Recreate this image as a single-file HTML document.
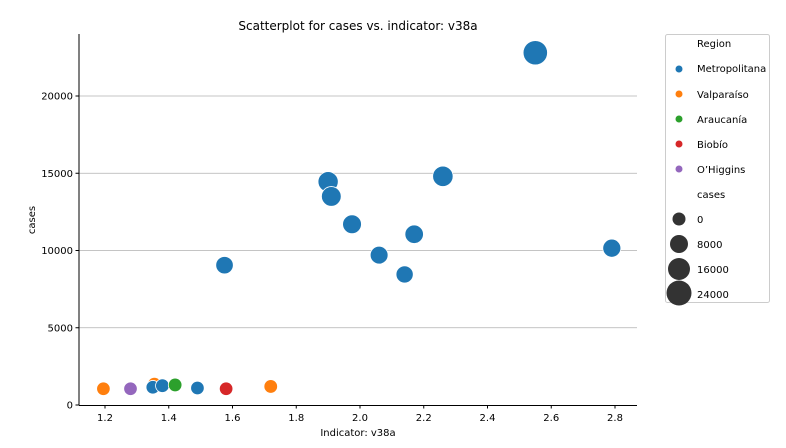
<!DOCTYPE html>
<html><head><meta charset="utf-8"><style>
body{margin:0;background:#fff;font-family:"Liberation Sans","DejaVu Sans",sans-serif}
</style></head><body>
<svg id="chart" width="786" height="443" xmlns="http://www.w3.org/2000/svg" font-family="DejaVu Sans, Liberation Sans, sans-serif">
<text x="358" y="30" text-anchor="middle" font-size="12">Scatterplot for cases vs. indicator: v38a</text>
<g id="grid"></g><g id="axes"></g><g id="marks"></g>
<text x="358" y="436" text-anchor="middle" font-size="10">Indicator: v38a</text>
<text x="35" y="220" text-anchor="middle" font-size="10" transform="rotate(-90 35 220)">cases</text>
<g>
<rect x="665.5" y="34.5" width="104" height="268" rx="2" fill="#fff" stroke="#ccc"/>
<text x="697" y="47" font-size="10">Region</text>
<circle cx="679" cy="69" r="3.5" fill="#1f77b4"/><text x="697" y="72" font-size="10">Metropolitana</text>
<circle cx="679" cy="94" r="3.5" fill="#ff7f0e"/><text x="697" y="98" font-size="10">Valparaíso</text>
<circle cx="679" cy="119" r="3.5" fill="#2ca02c"/><text x="697" y="123" font-size="10">Araucanía</text>
<circle cx="679" cy="144" r="3.5" fill="#d62728"/><text x="697" y="148" font-size="10">Biobío</text>
<circle cx="679" cy="169" r="3.5" fill="#9467bd"/><text x="697" y="173" font-size="10">O’Higgins</text>
<text x="697" y="198" font-size="10">cases</text>
<circle cx="679" cy="219" r="6.5" fill="#333"/><text x="697" y="223" font-size="10">0</text>
<circle cx="679" cy="244" r="9" fill="#333"/><text x="697" y="248" font-size="10">8000</text>
<circle cx="679" cy="269" r="11" fill="#333"/><text x="697" y="273" font-size="10">16000</text>
<circle cx="679" cy="293" r="12.5" fill="#333"/><text x="697" y="298" font-size="10">24000</text>
</g>
</svg>
<script>
const xs=[1.195,1.355,1.72,2.55,1.90,1.91,2.26,1.975,2.17,2.06,2.14,1.575,2.79,1.35,1.38,1.49,1.42,1.58,1.28];
const ys=[1050,1350,1200,22800,14450,13500,14800,11700,11050,9700,8450,9050,10150,1150,1250,1100,1300,1050,1050];
const regions=["Valparaíso","Valparaíso","Valparaíso","Metropolitana","Metropolitana","Metropolitana","Metropolitana","Metropolitana","Metropolitana","Metropolitana","Metropolitana","Metropolitana","Metropolitana","Metropolitana","Metropolitana","Metropolitana","Araucanía","Biobío","O'Higgins"];
const xTicks=[1.2,1.4,1.6,1.8,2.0,2.2,2.4,2.6,2.8];
const yTicks=[0,5000,10000,15000,20000];
const colors={"Metropolitana":"#1f77b4","Valparaíso":"#ff7f0e","Araucanía":"#2ca02c","Biobío":"#d62728","O'Higgins":"#9467bd"};
const L=79,R=637,T=34,B=405;
const sx=v=>105+(v-1.2)*318.75;
const sy=v=>B-v*309/20000;
const sr=v=>6.5+v/24000*6;
const NS="http://www.w3.org/2000/svg";
function mk(t,a,p){const e=document.createElementNS(NS,t);for(const k in a)e.setAttribute(k,a[k]);p.appendChild(e);return e;}
const grid=document.getElementById('grid'),axes=document.getElementById('axes'),marks=document.getElementById('marks');
yTicks.forEach(v=>{
 if(v>0){const g=mk('line',{x1:L,x2:R,y1:sy(v),y2:sy(v),stroke:'#b0b0b0','stroke-width':0.8},grid);
 
 }
 mk('line',{x1:L-3.5,x2:L,y1:sy(v),y2:sy(v),stroke:'#000'},axes);
 const t=mk('text',{x:L-6,y:sy(v)+3.5,'text-anchor':'end','font-size':10},axes);t.textContent=v;
 
 
});
xTicks.forEach(v=>{
 mk('line',{x1:sx(v),x2:sx(v),y1:B,y2:B+3.5,stroke:'#000'},axes);
 const t=mk('text',{x:sx(v),y:B+16,'text-anchor':'middle','font-size':10},axes);t.textContent=v.toFixed(1);
 
 
});
mk('line',{x1:L,x2:L,y1:T,y2:B+0.5,stroke:'#000','stroke-width':1},axes);
mk('line',{x1:L,x2:R,y1:B+0.5,y2:B+0.5,stroke:'#000','stroke-width':1},axes);
xs.forEach((x,i)=>{
 const c=mk('circle',{cx:sx(x),cy:sy(ys[i]),r:sr(ys[i]),fill:colors[regions[i]],stroke:'#fff','stroke-width':0.8},marks);
 
 
});
</script>
</body></html>
